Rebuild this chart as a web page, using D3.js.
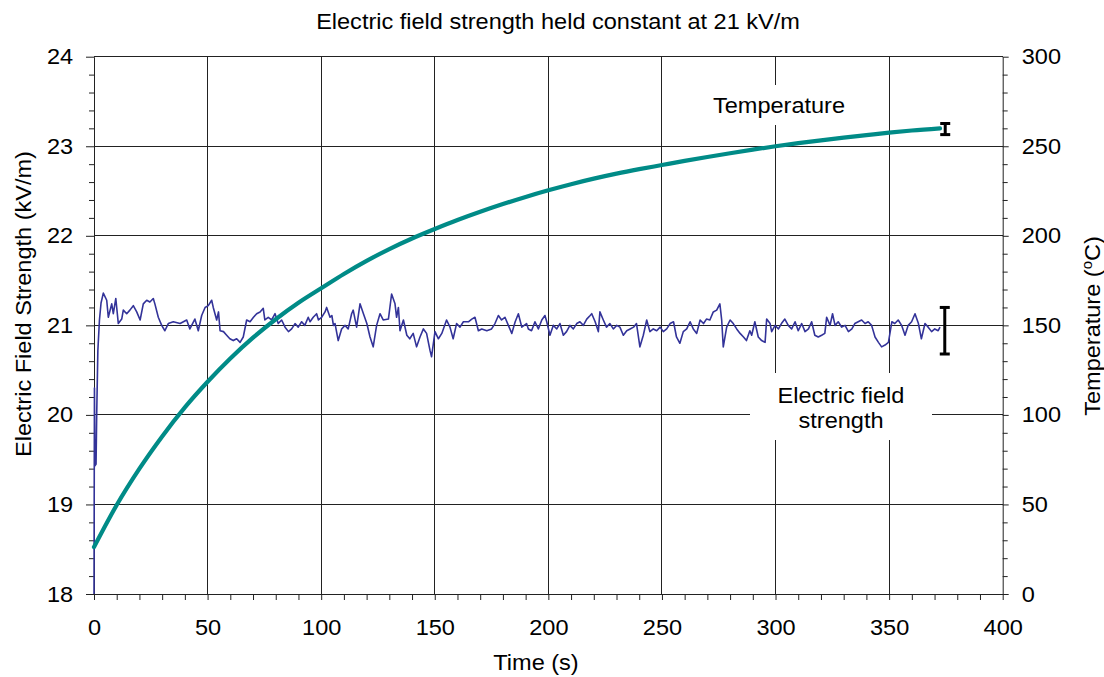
<!DOCTYPE html>
<html><head><meta charset="utf-8">
<script src="https://cdn.jsdelivr.net/npm/d3@7"></script>
<style>
body{margin:0;background:#fff;}
text{font-family:"Liberation Sans",Arial,sans-serif;fill:#000;}
</style></head>
<body><svg id="c" width="1104" height="677"></svg>
<script>
// ---- data ----
const xTicks = [0,50,100,150,200,250,300,350,400];
const efTicks = [18,19,20,21,22,23,24];
const tempTicks = [0,50,100,150,200,250,300];

const tempTime  = [0,10,20,30,40,50,60,70,80,90,100,110,120,130,140,150,160,170,180,190,200,210,220,230,240,250,260,270,280,290,300,310,320,330,340,350,360,372.4];
const tempValue = [26.2,49.7,70.0,88.0,104.2,118.5,131.5,143.1,153.4,162.6,170.7,178.7,186.0,192.6,198.5,203.8,208.8,213.4,217.7,221.7,225.4,228.8,231.9,234.7,237.2,239.5,241.8,244.0,246.1,248.1,250.0,251.7,253.3,254.8,256.2,257.6,258.8,260.0];

const efTime = [0,0.2,0.4,0.9,1.2,1.7,2.4,3.1,4.1,5.6,6.3,7.8,8.5,9.6,10.7,12.2,12.9,14.4,15.8,17.3,18.8,20.3,21.7,23.2,24.6,26.1,26.8,28.3,29.8,31.2,32.7,34.9,37.9,40.8,42.2,44.4,45.9,47.4,48.9,50.3,51.8,52.5,54.0,54.8,55.5,57.0,58.4,59.8,61.3,62.8,64.3,65.7,67.2,68.7,70.2,71.6,73.1,74.5,75.2,76.7,78.2,79.7,81.1,82.6,84.1,85.6,87.0,88.5,89.9,91.4,92.8,94.3,95.1,96.5,98.0,98.8,100.2,101.7,102.4,103.9,104.7,105.4,106.1,107.5,109.0,110.5,111.9,113.4,114.1,115.6,117.1,118.6,120.1,121.5,122.9,124.4,125.9,127.3,129.6,131.0,132.5,133.2,134.0,134.7,136.2,137.7,139.0,140.5,142.0,143.5,145.0,146.4,147.9,148.6,150.1,151.6,153.1,155.2,156.7,158.1,159.6,161.1,162.6,164.8,166.3,167.7,169.2,170.7,172.9,175.0,176.5,178.0,179.4,180.9,182.4,183.9,185.4,186.8,188.3,190.4,191.2,192.6,194.1,195.6,197.1,198.5,199.3,200.7,202.2,203.7,205.1,206.6,208.0,209.5,211.0,212.5,213.9,215.4,216.9,218.4,219.1,220.6,222.0,222.7,224.2,225.6,227.1,228.6,230.1,231.5,233.0,234.5,236.0,237.5,238.8,240.3,241.8,243.3,244.7,246.2,247.7,249.2,250.6,252.1,253.6,255.1,256.4,257.9,259.4,260.9,262.4,263.8,265.3,266.8,268.3,269.6,271.1,272.6,274.1,275.5,276.3,277.0,278.5,280.0,281.4,282.9,284.4,285.9,287.2,288.7,289.5,290.9,292.4,293.9,295.4,296.1,297.6,298.3,299.8,301.3,302.6,304.1,305.6,307.1,308.6,310.0,311.5,313.0,314.5,315.9,317.3,318.8,320.3,321.7,322.5,324.0,325.1,326.2,327.6,329.1,330.6,332.1,333.6,334.9,336.4,337.9,339.4,340.8,342.3,343.8,345.3,346.7,348.2,349.7,351.2,352.5,354.0,355.5,357.0,358.4,359.9,361.4,362.9,364.2,365.8,367.2,368.7,370.1,371.6,372.4];
const efValue = [18.0,20.30,19.43,19.45,20.02,20.72,21.06,21.25,21.36,21.28,21.09,21.24,21.13,21.30,21.02,21.07,21.17,21.13,21.17,21.22,21.15,21.06,21.24,21.28,21.26,21.30,21.24,21.09,21.00,20.94,21.02,21.04,21.02,21.06,20.96,21.07,20.94,21.11,21.20,21.22,21.28,21.20,21.06,21.15,20.94,20.93,20.89,20.85,20.83,20.85,20.81,20.87,21.06,21.04,21.09,21.13,21.15,21.19,21.06,21.09,21.06,21.13,21.02,21.06,20.98,20.93,20.96,21.02,20.98,21.04,21.00,21.09,21.04,21.09,21.13,21.06,21.09,21.15,21.20,21.09,21.11,21.00,21.02,20.83,20.96,21.00,20.96,21.13,21.17,20.98,21.24,21.13,21.02,20.87,20.76,21.00,21.13,21.06,21.07,21.35,21.24,21.09,21.20,20.94,21.06,20.89,20.85,20.91,20.76,20.87,20.96,20.91,20.72,20.65,20.93,20.85,20.91,21.06,20.98,20.85,21.02,20.98,21.04,21.04,21.07,21.09,20.94,20.96,20.94,20.96,21.02,21.11,21.06,21.09,21.00,20.91,21.04,21.13,20.98,21.02,20.96,20.94,21.04,20.96,21.06,21.11,21.04,20.89,21.00,20.96,21.02,20.89,20.93,21.00,20.96,21.02,21.04,21.00,21.07,21.11,21.13,21.04,20.93,21.15,21.06,20.98,21.02,20.96,21.00,20.98,20.89,20.94,20.96,20.98,21.02,20.76,20.89,21.06,20.93,20.96,20.94,20.98,20.93,20.96,21.02,21.04,20.87,20.80,20.93,20.96,21.04,20.96,20.91,21.06,21.02,21.07,21.06,21.15,21.17,21.24,21.06,20.76,20.98,21.06,21.02,20.96,20.91,20.87,20.83,20.94,20.89,21.04,20.87,20.83,20.81,21.07,21.02,20.93,21.00,20.96,21.02,21.07,21.00,20.96,21.04,20.94,21.02,20.93,20.96,21.04,20.89,20.87,20.89,20.91,21.09,21.00,21.13,21.00,21.04,20.98,21.00,20.93,20.96,21.02,21.04,21.06,21.02,21.04,21.00,20.87,20.81,20.76,20.78,20.81,21.04,21.02,21.06,21.00,20.89,21.00,21.04,21.13,21.02,20.85,21.02,20.98,20.93,20.96,20.94,20.98];

const tempErr = {t:374.7, v:259.6, e:3.1};
const efErr = {t:374.5, v:20.94, e:0.26};

// ---- layout ----
const svg = d3.select("#c");
const L = 94, R = 1002.7, T = 56.7, B = 594;
const FS = "22px", SX = 1.07;
const x = d3.scaleLinear().domain([0,400]).range([L,R]);
const yE = d3.scaleLinear().domain([18,24]).range([B,T]);
const yT = d3.scaleLinear().domain([0,300]).range([B,T]);

// gridlines
const g = svg.append("g").attr("stroke","#222").attr("stroke-width",1).attr("shape-rendering","crispEdges");
g.selectAll(".vx").data(xTicks.slice(1,-1)).join("line")
  .attr("x1",d=>x(d)).attr("x2",d=>x(d)).attr("y1",T).attr("y2",B);
g.selectAll(".hy").data(efTicks.slice(1)).join("line")
  .attr("x1",L).attr("x2",R).attr("y1",d=>yE(d)).attr("y2",d=>yE(d));

// label boxes (white, covering gridlines)
svg.append("rect").attr("x",702).attr("y",85).attr("width",156).attr("height",40).attr("fill","#fff");
svg.append("rect").attr("x",750).attr("y",373).attr("width",182).attr("height",67).attr("fill","#fff");

// axes
function styleAxis(sel){
  sel.select(".domain").attr("stroke","#222");
  sel.selectAll(".tick line").attr("stroke","#222");
  sel.selectAll("text").attr("font-size",FS).attr("fill","#000")
    .attr("font-family","Liberation Sans, Arial, sans-serif")
    .attr("transform",`scale(${SX},1)`);
}
const minorX = d3.range(0,401,10).filter(v=>v%50!==0);
const minorE = d3.range(18,24.001,0.2).filter(v=>Math.abs(v-Math.round(v))>1e-6);
const minorT = d3.range(0,301,10).filter(v=>v%50!==0);

const ax = svg.append("g").attr("transform",`translate(0,${B})`)
  .call(d3.axisBottom(x).tickValues(xTicks).tickSize(6).tickPadding(19).tickSizeOuter(0));
styleAxis(ax);
svg.append("g").attr("transform",`translate(0,${B})`)
  .call(d3.axisBottom(x).tickValues(minorX).tickSize(6).tickFormat("").tickSizeOuter(0))
  .call(s=>{s.select(".domain").remove(); s.selectAll("line").attr("stroke","#222");});

const ayl = svg.append("g").attr("transform",`translate(${L},0)`)
  .call(d3.axisLeft(yE).tickValues(efTicks).tickFormat(d3.format("d")).tickSize(8).tickPadding(11.5).tickSizeOuter(0));
styleAxis(ayl);
svg.append("g").attr("transform",`translate(${L},0)`)
  .call(d3.axisLeft(yE).tickValues(minorE).tickSize(5).tickFormat("").tickSizeOuter(0))
  .call(s=>{s.select(".domain").remove(); s.selectAll("line").attr("stroke","#222");});

const ayr = svg.append("g").attr("transform",`translate(${R},0)`)
  .call(d3.axisRight(yT).tickValues(tempTicks).tickFormat(d3.format("d")).tickSize(6).tickPadding(11.8).tickSizeOuter(0));
styleAxis(ayr);
svg.append("g").attr("transform",`translate(${R},0)`)
  .call(d3.axisRight(yT).tickValues(minorT).tickSize(5).tickFormat("").tickSizeOuter(0))
  .call(s=>{s.select(".domain").remove(); s.selectAll("line").attr("stroke","#222");});

// data lines
const efData = efTime.map((t,i)=>({t, v:efValue[i]}));
const tData = tempTime.map((t,i)=>({t, v:tempValue[i]}));

svg.append("path").datum(efData)
  .attr("fill","none").attr("stroke","#333399").attr("stroke-width",1.6).attr("stroke-linejoin","round")
  .attr("d", d3.line().x(d=>x(d.t)).y(d=>yE(d.v)));

svg.append("path").datum(tData)
  .attr("fill","none").attr("stroke","#008B87").attr("stroke-width",4.2).attr("stroke-linecap","round")
  .attr("d", d3.line().x(d=>x(d.t)).y(d=>yT(d.v)).curve(d3.curveMonotoneX));

// error bars
function errBar(xv, y0, y1, cap){
  const eg = svg.append("g").attr("stroke","#000").attr("stroke-width",3);
  eg.append("line").attr("x1",xv).attr("x2",xv).attr("y1",y0).attr("y2",y1);
  eg.append("line").attr("x1",xv-cap).attr("x2",xv+cap).attr("y1",y0).attr("y2",y0);
  eg.append("line").attr("x1",xv-cap).attr("x2",xv+cap).attr("y1",y1).attr("y2",y1);
}
errBar(x(tempErr.t), yT(tempErr.v+tempErr.e), yT(tempErr.v-tempErr.e), 5);
errBar(x(efErr.t), yE(efErr.v+efErr.e), yE(efErr.v-efErr.e), 5);

// texts
function txt(tf, s, anchor){
  return svg.append("text").attr("transform",tf+` scale(${SX},1)`).attr("text-anchor",anchor||"middle")
    .attr("font-size",FS).text(s);
}
txt("translate(558,29)","Electric field strength held constant at 21 kV/m");
txt("translate(536,670)","Time (s)");
txt("translate(31,304) rotate(-90)","Electric Field Strength (kV/m)");
const rt = svg.append("text").attr("transform",`translate(1100,326) rotate(-90) scale(${SX},1)`)
  .attr("text-anchor","middle").attr("font-size",FS);
rt.append("tspan").text("Temperature (");
rt.append("tspan").attr("font-size","14px").attr("dy","-8").text("o");
rt.append("tspan").attr("dy","8").text("C)");

txt("translate(779,113)","Temperature");
txt("translate(841,403)","Electric field");
txt("translate(841,428)","strength");
</script></body></html>
